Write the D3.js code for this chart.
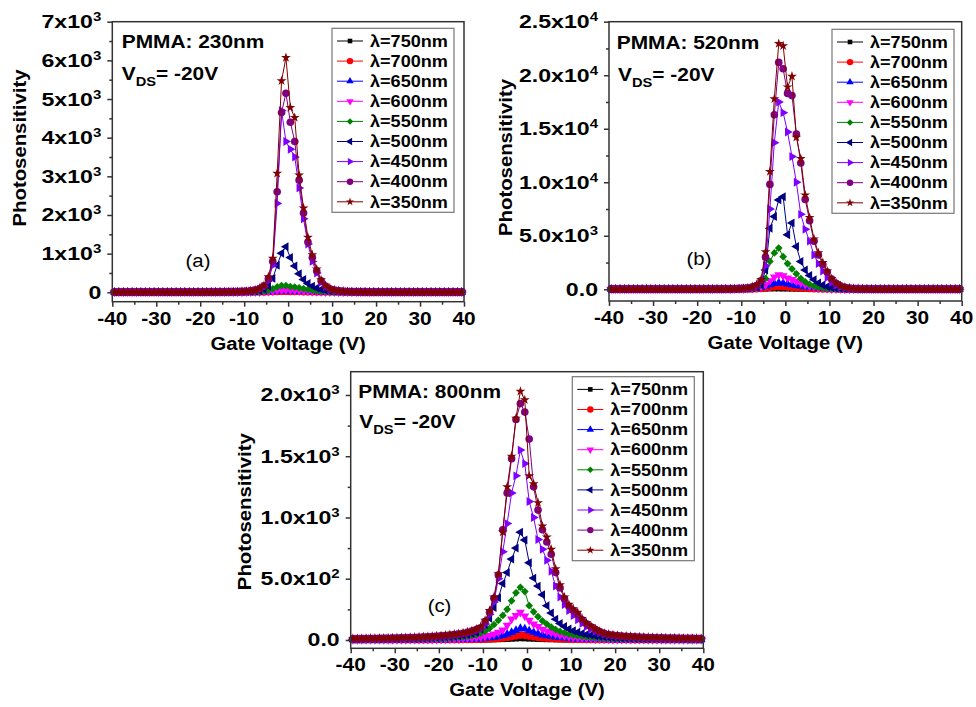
<!DOCTYPE html>
<html>
<head>
<meta charset="utf-8">
<script src="https://cdnjs.cloudflare.com/ajax/libs/d3/7.8.5/d3.min.js"></script>
<style>
  body { margin: 0; background: #fff; }
  svg { font-family: "Liberation Sans", Arial, sans-serif; }
</style>
</head>
<body>
<script>
// Gate voltage grid (V) shared by every series
let voltage = d3.range(-39.5, 40, 1);

let wavelengths = ["750", "700", "650", "600", "550", "500", "450", "400", "350"];

let xTicks = [-40, -30, -20, -10, 0, 10, 20, 30, 40];
let xTickLabels = ["-40", "-30", "-20", "-10", "0", "10", "20", "30", "40"];
let xMinor = [-35, -25, -15, -5, 5, 15, 25, 35];

let yTicksA = [0, 1000, 2000, 3000, 4000, 5000, 6000, 7000];
let yLabelsA = [["0", ""], ["1x10", "3"], ["2x10", "3"], ["3x10", "3"], ["4x10", "3"], ["5x10", "3"], ["6x10", "3"], ["7x10", "3"]];
let yTicksB = [0, 5000, 10000, 15000, 20000, 25000];
let yLabelsB = [["0.0", ""], ["5.0x10", "3"], ["1.0x10", "4"], ["1.5x10", "4"], ["2.0x10", "4"], ["2.5x10", "4"]];
let yTicksC = [0, 500, 1000, 1500, 2000];
let yLabelsC = [["0.0", ""], ["5.0x10", "2"], ["1.0x10", "3"], ["1.5x10", "3"], ["2.0x10", "3"]];

// ---- panel (a) PMMA 230nm ----
let a750 = [5,5,5,5,5,5,5,5,5,5, 5,5,5,5,5,5,5,5,5,5, 5,5,5,5,5,5,5,5,6,6,
  6,6,7,7,8,9,10,12,14,15, 14,13,12,11,10,9,8,7,7,6, 6,6,5,5,5,5,5,5,5,5,
  5,5,5,5,5,5,5,5,5,5, 5,5,5,5,5,5,5,5,5,5];
let a700 = [5,5,5,5,5,5,5,5,5,5, 5,5,5,5,5,5,5,5,5,5, 5,5,5,5,5,5,5,5,6,6,
  6,7,8,9,11,14,18,22,25,26, 24,22,20,17,15,13,11,9,8,7, 6,6,5,5,5,5,5,5,5,5,
  5,5,5,5,5,5,5,5,5,5, 5,5,5,5,5,5,5,5,5,5];
let a650 = [5,5,5,5,5,5,5,5,5,5, 5,5,5,5,5,5,5,5,5,5, 5,5,5,5,5,5,5,6,6,6,
  7,8,9,11,14,19,26,34,40,42, 38,34,30,26,22,18,15,12,10,8, 7,6,6,5,5,5,5,5,5,5,
  5,5,5,5,5,5,5,5,5,5, 5,5,5,5,5,5,5,5,5,5];
let a600 = [5,5,5,5,5,5,5,5,5,5, 5,5,5,5,5,5,5,5,5,5, 5,5,5,5,5,5,6,6,7,7,
  8,9,11,14,18,25,35,48,58,60, 55,48,42,36,30,24,19,15,12,10, 8,7,6,6,5,5,5,5,5,5,
  5,5,5,5,5,5,5,5,5,5, 5,5,5,5,5,5,5,5,5,5];
let a550 = [5,5,5,5,5,5,5,5,5,5, 5,5,5,5,5,5,5,5,5,5, 5,5,5,5,5,6,6,7,8,9,
  10,12,15,20,30,50,90,140,175,170, 150,135,115,95,75,55,40,30,22,16, 12,10,8,7,6,6,5,5,5,5,
  5,5,5,5,5,5,5,5,5,5, 5,5,5,5,5,5,5,5,5,5];
let a500 = [5,5,5,5,5,5,5,5,5,5, 5,5,5,5,5,5,5,5,5,5, 5,5,5,6,6,7,8,9,11,14,
  17,22,30,45,80,160,360,700,1010,1180, 900,680,480,330,230,160,110,75,50,35, 26,20,15,12,10,8,7,6,6,5,
  5,5,5,5,5,5,5,5,5,5, 5,5,5,5,5,5,5,5,5,5];
let a450 = [5,5,5,5,5,5,5,5,5,5, 5,5,5,5,5,5,5,5,5,5, 6,6,7,7,8,9,11,13,16,20,
  26,35,50,80,150,300,700,2300,4700,3900, 3700,3500,2700,1900,1250,800,500,260,140,80, 50,35,25,18,14,11,9,8,7,6,
  5,5,5,5,5,5,5,5,5,5, 5,5,5,5,5,5,5,5,5,5];
let a400 = [5,5,5,5,5,5,5,5,5,5, 5,5,5,5,5,5,5,5,5,5, 6,6,7,8,9,10,12,14,17,22,
  28,38,55,90,160,350,800,2600,4650,5150, 4400,3900,2900,2050,1300,900,550,300,160,90, 55,38,27,20,15,12,10,8,7,6,
  5,5,5,5,5,5,5,5,5,5, 5,5,5,5,5,5,5,5,5,5];
let a350 = [5,5,5,5,5,5,5,5,5,5, 5,5,5,5,5,5,5,5,5,5, 7,7,8,9,10,11,13,15,18,24,
  30,40,60,100,180,400,880,3075,5470,6070, 4780,4520,3030,2180,1420,970,600,320,180,100, 60,40,28,21,16,13,11,9,8,7,
  5,5,5,5,5,5,5,5,5,5, 5,5,5,5,5,5,5,5,5,5];

// ---- panel (b) PMMA 520nm ----
let b750 = [10,10,10,10,10,10,10,10,10,10, 10,10,10,10,10,10,10,10,10,10, 10,10,10,10,10,10,10,10,10,10,
  10,12,15,20,28,40,55,60,58,50, 45,40,35,30,25,20,16,13,11,10, 10,10,10,10,10,10,10,10,10,10,
  10,10,10,10,10,10,10,10,10,10, 10,10,10,10,10,10,10,10,10,10];
let b700 = [10,10,10,10,10,10,10,10,10,10, 10,10,10,10,10,10,10,10,10,10, 10,10,10,10,10,11,12,14,16,18,
  22,28,38,55,85,130,180,230,250,240, 210,180,150,120,95,75,58,45,35,28, 22,18,15,13,12,11,10,10,10,10,
  10,10,10,10,10,10,10,10,10,10, 10,10,10,10,10,10,10,10,10,10];
let b650 = [10,10,10,10,10,10,10,10,10,10, 10,10,10,10,10,10,10,10,10,10, 10,10,10,11,12,13,15,18,22,28,
  36,48,70,110,180,290,420,540,610,580, 500,430,360,300,240,190,145,110,80,60, 45,35,28,22,18,15,13,12,11,10,
  10,10,10,10,10,10,10,10,10,10, 10,10,10,10,10,10,10,10,10,10];
let b600 = [10,10,10,10,10,10,10,10,10,10, 10,10,10,10,10,10,10,10,10,10, 10,10,11,12,13,15,18,22,28,36,
  48,65,95,150,250,420,800,1150,1350,1250, 1050,900,750,600,450,330,220,150,100,70, 50,38,30,24,20,16,14,12,11,10,
  10,10,10,10,10,10,10,10,10,10, 10,10,10,10,10,10,10,10,10,10];
let b550 = [10,10,10,10,10,10,10,10,10,10, 10,10,10,10,10,10,10,10,10,10, 10,10,11,12,14,16,20,25,32,42,
  55,72,95,150,400,1000,2600,3400,3850,3050, 2400,1900,1450,1000,700,450,300,200,130,90, 65,48,38,30,24,20,16,14,12,11,
  10,10,10,10,10,10,10,10,10,10, 10,10,10,10,10,10,10,10,10,10];
let b500 = [10,10,10,10,10,10,10,10,10,10, 10,10,10,10,10,10,10,10,10,10, 10,11,12,13,15,18,22,28,36,48,
  65,90,130,180,400,1800,5700,6800,8350,8650, 5100,6200,4000,2600,1800,1300,900,600,400,250, 160,100,70,48,35,25,18,14,12,11,
  10,10,10,10,10,10,10,10,10,10, 10,10,10,10,10,10,10,10,10,10];
let b450 = [10,10,10,10,10,10,10,10,10,10, 10,10,10,10,10,10,10,10,10,10, 10,11,12,14,16,19,24,30,40,55,
  75,100,140,250,700,2200,7500,13700,17500,16500, 14700,12400,10000,7000,5600,4500,3200,2400,1700,1100, 650,380,220,130,80,55,40,30,22,16,
  10,10,10,10,10,10,10,10,10,10, 10,10,10,10,10,10,10,10,10,10];
let b400 = [10,10,10,10,10,10,10,10,10,10, 10,10,10,10,10,10,10,10,10,10, 10,11,12,14,17,20,25,32,42,58,
  80,110,200,350,800,3000,9800,16300,21200,20600, 18300,18100,14500,11800,8400,6400,4500,3200,2300,1600, 950,560,330,190,110,70,45,32,24,18,
  10,10,10,10,10,10,10,10,10,10, 10,10,10,10,10,10,10,10,10,10];
let b350 = [10,10,10,10,10,10,10,10,10,10, 10,10,10,10,10,10,10,10,10,10, 10,11,13,15,18,22,27,35,45,62,
  85,120,250,450,900,3500,11000,17800,22950,22750, 18900,19900,14200,12200,8800,6700,4700,3400,2500,1700, 1000,600,350,200,120,75,50,35,26,20,
  10,10,10,10,10,10,10,10,10,10, 10,10,10,10,10,10,10,10,10,10];

// ---- panel (c) PMMA 800nm ----
let c750 = [2,2,2,2,2,2,2,2,2,2, 2,2,2,2,2,2,2,2,2,2, 2,2,2,2,2,2,2,2,2,2,
  2,2,3,4,5,6,8,10,12,11, 9,8,6,5,4,4,3,3,2,2, 2,2,2,2,2,2,2,2,2,2,
  2,2,2,2,2,2,2,2,2,2, 2,2,2,2,2,2,2,2,2,2];
let c700 = [2,2,2,2,2,2,2,2,2,2, 2,2,2,2,2,2,2,2,3,3, 3,3,3,3,3,4,4,4,5,5,
  6,8,10,13,16,21,27,34,40,38, 32,26,21,17,14,12,10,8,7,6, 5,5,4,4,4,3,3,3,3,3,
  3,3,3,2,2,2,2,2,2,2, 2,2,2,2,2,2,2,2,2,2];
let c650 = [2,2,2,2,2,2,2,2,2,2, 2,2,2,3,3,3,3,3,3,3, 3,3,4,4,5,5,6,7,9,11,
  14,18,23,29,37,48,62,78,95,90, 75,62,51,42,35,29,24,20,16,13, 11,9,8,7,6,5,4,4,3,3,
  3,3,3,3,3,3,2,2,2,2, 2,2,2,2,2,2,2,2,2,2];
let c600 = [3,3,3,3,3,3,3,3,3,3, 3,3,3,4,4,4,4,5,5,5, 6,7,8,9,10,12,14,17,20,24,
  30,38,48,62,80,120,170,200,225,195, 160,130,110,88,72,60,49,40,33,27, 22,18,15,13,11,9,8,7,6,5,
  5,5,4,4,4,4,4,3,3,3, 3,3,3,3,3,3,3,3,3,3];
let c550 = [4,4,4,5,5,5,5,6,6,6, 6,7,7,8,8,9,10,11,12,13, 14,16,18,20,23,26,30,35,42,55,
  72,95,125,160,200,250,320,385,430,395, 280,230,190,155,130,105,85,70,58,48, 40,34,29,25,21,18,16,14,12,11,
  10,9,9,8,8,7,7,6,6,6, 6,5,5,5,5,5,4,4,4,4];
let c500 = [6,6,6,7,7,7,8,8,8,9, 9,10,10,11,12,13,14,15,17,19, 21,23,26,29,33,38,44,52,62,90,
  125,177,265,345,460,550,660,750,880,816, 630,505,440,370,280,220,170,135,110,90, 75,63,53,45,39,34,29,25,22,19,
  17,15,14,13,12,11,10,10,9,9, 8,8,8,7,7,7,6,6,6,6];
let c450 = [8,8,9,9,10,10,11,11,12,12, 13,14,15,16,17,18,20,22,24,26, 29,32,36,40,45,50,57,65,75,90,
  130,210,310,500,720,950,1200,1340,1550,1440, 1130,1000,820,740,650,560,440,350,290,240, 200,165,135,110,90,72,58,47,40,35,
  31,28,25,23,21,19,18,17,16,15, 14,14,13,13,12,12,11,11,10,10];
let c400 = [10,10,11,11,12,12,13,13,14,15, 16,17,18,19,20,21,23,25,27,30, 33,36,40,44,49,55,62,72,85,100,
  150,225,340,530,900,1200,1480,1800,1930,1860, 1640,1250,1060,900,800,700,550,425,335,275, 240,205,165,132,108,86,68,54,45,39,
  35,32,29,27,25,23,21,20,19,18, 17,16,15,15,14,14,13,13,12,12];
let c350 = [12,12,13,13,14,14,15,15,16,17, 18,19,20,21,22,24,26,28,30,33, 36,39,43,47,52,58,65,75,88,110,
  160,240,350,540,880,1250,1500,1810,2030,1960, 1340,1275,1120,930,840,740,580,450,350,290, 255,225,175,140,115,90,70,55,47,41,
  37,34,31,29,27,25,23,22,21,20, 19,18,17,16,16,15,15,14,14,13];

// ---- styles ----
let colors = ["#000000", "#ff0000", "#0000ff", "#ff00ff", "#008000", "#000080", "#8000ff", "#800080", "#800000"];
let markers = [
  { type: d3.symbolSquare, size: 30, rot: 0 },
  { type: d3.symbolCircle, size: 46, rot: 0 },
  { type: d3.symbolTriangle, size: 34, rot: 0 },
  { type: d3.symbolTriangle, size: 34, rot: 180 },
  { type: d3.symbolSquare, size: 30, rot: 45 },
  { type: d3.symbolTriangle, size: 34, rot: -90 },
  { type: d3.symbolTriangle, size: 34, rot: 90 },
  { type: d3.symbolCircle, size: 46, rot: 0 },
  { type: d3.symbolStar, size: 30, rot: 0 }
];

let panels = [
  { series: [a750, a700, a650, a600, a550, a500, a450, a400, a350],
    left: 112.3, right: 464, top: 21.7, bottom: 301.7, yDomain: [-243, 7000],
    yTicks: yTicksA, yLabels: yLabelsA, yMinorStep: 500,
    ytX: 25.6, ytY: 148, lgX: 332, lgY: 28.3,
    film: "PMMA: 230nm", filmX: 121.7, filmY: 48.3, vdsX: 121.7, vdsY: 80,
    tag: "(a)", tagX: 198, tagY: 266.7 },
  { series: [b750, b700, b650, b600, b550, b500, b450, b400, b350],
    left: 609, right: 961.7, top: 21.7, bottom: 301, yDomain: [-1093, 25000],
    yTicks: yTicksB, yLabels: yLabelsB, yMinorStep: 2500,
    ytX: 511.6, ytY: 157.5, lgX: 832, lgY: 29.3,
    film: "PMMA: 520nm", filmX: 616.7, filmY: 49.3, vdsX: 618, vdsY: 81,
    tag: "(b)", tagX: 699, tagY: 265 },
  { series: [c750, c700, c650, c600, c550, c500, c450, c400, c350],
    left: 350.7, right: 703.3, top: 371.7, bottom: 648.3, yDomain: [-68, 2190],
    yTicks: yTicksC, yLabels: yLabelsC, yMinorStep: 250,
    ytX: 251, ytY: 511.7, lgX: 572.3, lgY: 376.7,
    film: "PMMA: 800nm", filmX: 358.3, filmY: 398.3, vdsX: 359.3, vdsY: 428.3,
    tag: "(c)", tagX: 439.5, tagY: 611.7 }
];

const SX = 1.13; // the source lettering is a little wider than Liberation Sans
const AXIS = "#333";

let svg = d3.select("body").append("svg")
    .attr("width", 976)
    .attr("height", 707);

// text helper: parts are [string, "" | "sub" | "sup"]
function addText(g, x, y, parts, o) {
  o = o || {};
  let t = g.append("text")
      .attr("transform", `translate(${x},${y}) rotate(${o.rotate || 0}) scale(${o.sx || SX},1)`)
      .attr("text-anchor", o.anchor || "start")
      .style("font-size", (o.size || 18) + "px")
      .style("font-weight", o.weight || "bold")
      .attr("fill", "#000");
  let shift = 0;
  parts.forEach(function(p) {
    if (!p[0]) return;
    let want = p[1] === "sub" ? 6 : p[1] === "sup" ? -7 : 0;
    let ts = t.append("tspan").attr("dy", want - shift).text(p[0]);
    if (p[1]) ts.style("font-size", (o.small || 12) + "px");
    shift = want;
  });
  return t;
}

function drawPanel(p) {
  let g = svg.append("g");
  let x = d3.scaleLinear().domain([-40, 40]).range([p.left, p.right]);
  let y = d3.scaleLinear().domain(p.yDomain).range([p.bottom, p.top]);

  let valueline = d3.line()
      .x(function(d) { return x(d[0]); })
      .y(function(d) { return y(d[1]); });

  // series, 750nm first so 350nm ends on top
  p.series.forEach(function(vals, i) {
    let data = voltage.map(function(v, k) { return [v, vals[k]]; });
    g.append("path")
        .attr("d", valueline(data))
        .attr("fill", "none")
        .attr("stroke", colors[i])
        .attr("stroke-width", 1);
    g.append("g").selectAll("path")
      .data(data)
      .join("path")
        .attr("transform", function(d) { return `translate(${x(d[0])},${y(d[1])}) rotate(${markers[i].rot})`; })
        .attr("d", d3.symbol().type(markers[i].type).size(markers[i].size))
        .attr("fill", colors[i]);
  });

  // frame
  g.append("rect")
      .attr("x", p.left).attr("y", p.top)
      .attr("width", p.right - p.left).attr("height", p.bottom - p.top)
      .attr("fill", "none").attr("stroke", AXIS).attr("stroke-width", 1.5);

  // ticks (outward, no labels from the axis itself)
  let yMinor = d3.range(p.yMinorStep, p.yDomain[1], p.yMinorStep * 2);
  let ax = [
    g.append("g").attr("transform", `translate(0,${p.bottom})`)
      .call(d3.axisBottom(x).tickValues(xTicks).tickSize(5).tickFormat("")),
    g.append("g").attr("transform", `translate(0,${p.bottom})`)
      .call(d3.axisBottom(x).tickValues(xMinor).tickSize(3).tickFormat("")),
    g.append("g").attr("transform", `translate(${p.left},0)`)
      .call(d3.axisLeft(y).tickValues(p.yTicks).tickSize(5).tickFormat("")),
    g.append("g").attr("transform", `translate(${p.left},0)`)
      .call(d3.axisLeft(y).tickValues(yMinor).tickSize(3).tickFormat(""))
  ];
  ax.forEach(function(a) {
    a.select(".domain").remove();
    a.selectAll("line").attr("stroke", AXIS).attr("stroke-width", 1.5);
  });

  // tick labels
  xTicks.forEach(function(v, i) {
    addText(g, x(v), p.bottom + 23, [[xTickLabels[i], ""]], { anchor: "middle", size: 18.5 });
  });
  p.yTicks.forEach(function(v, i) {
    addText(g, p.left - 11, y(v) + 6.5, [[p.yLabels[i][0], ""], [p.yLabels[i][1], "sup"]],
            { anchor: "end", sx: 1.25, size: 18.5 });
  });

  // axis titles
  addText(g, (p.left + p.right) / 2, p.bottom + 48, [["Gate Voltage (V)", ""]], { anchor: "middle" });
  addText(g, p.ytX, p.ytY, [["Photosensitivity", ""]], { anchor: "middle", rotate: -90 });

  // annotations
  addText(g, p.filmX, p.filmY, [[p.film, ""]], { size: 18.5 });
  addText(g, p.vdsX, p.vdsY, [["V", ""], ["DS", "sub"], ["= -20V", ""]], { size: 18.5, small: 13 });
  addText(g, p.tagX, p.tagY, [[p.tag, ""]], { anchor: "middle", weight: "normal" });

  // legend
  let lg = g.append("g");
  lg.append("rect")
      .attr("x", p.lgX).attr("y", p.lgY)
      .attr("width", 122).attr("height", 184)
      .attr("fill", "#fff").attr("stroke", "#777").attr("stroke-width", 1.2);
  wavelengths.forEach(function(w, i) {
    let cy = p.lgY + 12.7 + i * 20.1;
    lg.append("line")
        .attr("x1", p.lgX + 5).attr("x2", p.lgX + 31)
        .attr("y1", cy).attr("y2", cy)
        .attr("stroke", colors[i]).attr("stroke-width", 1);
    lg.append("path")
        .attr("transform", `translate(${p.lgX + 18},${cy}) rotate(${markers[i].rot})`)
        .attr("d", d3.symbol().type(markers[i].type).size(markers[i].size * 0.7))
        .attr("fill", colors[i]);
    addText(lg, p.lgX + 38, cy + 5.7, [["λ=" + w + "nm", ""]], { size: 16 });
  });
}

panels.forEach(drawPanel);
</script>
</body>
</html>
